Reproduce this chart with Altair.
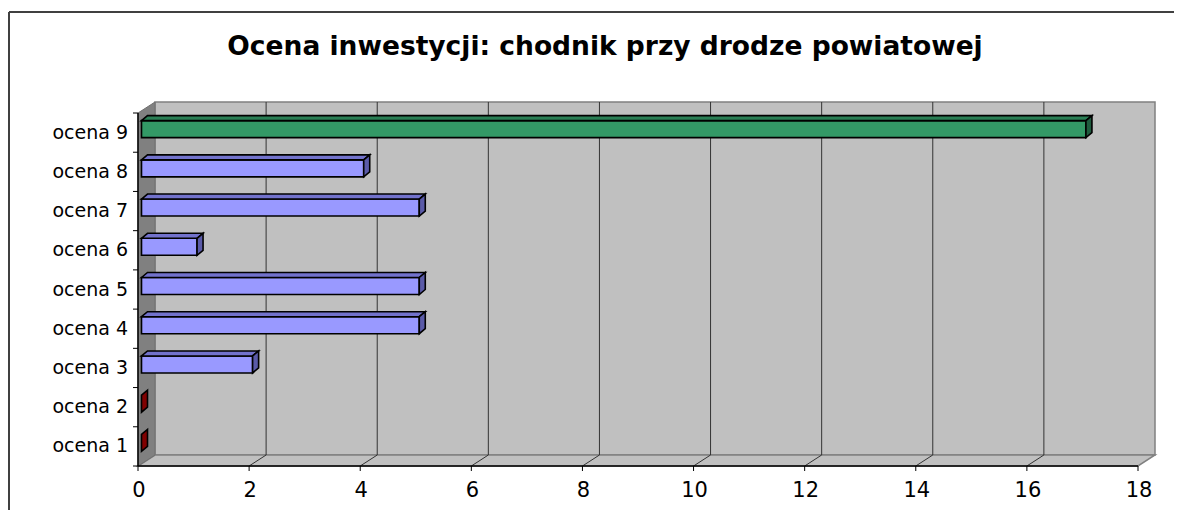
import altair as alt
import pandas as pd

# ---------------- data ----------------
categories = ["ocena 1", "ocena 2", "ocena 3", "ocena 4", "ocena 5",
              "ocena 6", "ocena 7", "ocena 8", "ocena 9"]
values = [0, 0, 2, 5, 5, 1, 5, 4, 17]
x_ticks = [0, 2, 4, 6, 8, 10, 12, 14, 16, 18]
title_text = ["Ocena inwestycji: chodnik przy drodze powiatowej"]

# ---------------- geometry / style constants ----------------
W, H = 1000, 353
XMAX = 18
N = len(categories)
SX = XMAX / W          # data units per px (x)
SY = N / H             # data units per px (y)
BACK_DX, BACK_DY = 17, 11      # 3-D depth of the walls, px
BAR_X0 = 3.5                   # bar start offset, px
BAR_TOP, BAR_BOT = 12, 5       # front face extent above/below category centre, px
DEP_X, DEP_Y = 6, 5            # bar depth, px
TICK = 5
FONT = "DejaVu Sans"

tones = ["zero", "mid", "max"]
front_cols = ["#993333", "#9999FF", "#339966"]
top_cols = ["#A03030", "#7272CC", "#2A7F55"]
side_cols = ["#800000", "#5A5AA8", "#1F5C3E"]

df = pd.DataFrame({"cat": categories, "value": values})
df["k"] = range(1, N + 1)
vmax = max(values)
df["tone"] = ["zero" if v == 0 else ("max" if v == vmax else "mid") for v in values]

top_rows, side_rows = [], []
for _, r in df.iterrows():
    x0 = BAR_X0 * SX
    x1 = r["value"] + BAR_X0 * SX
    dx = DEP_X * SX
    yb = r["k"] + BAR_TOP * SY
    yt = yb + DEP_Y * SY
    ybot = r["k"] - BAR_BOT * SY
    if r["value"] > 0:
        top_rows += [
            dict(cat=r["cat"], tone=r["tone"], x=x0, y=yb, y2=yb),
            dict(cat=r["cat"], tone=r["tone"], x=x0 + dx, y=yt, y2=yb),
            dict(cat=r["cat"], tone=r["tone"], x=x1, y=yt, y2=yb),
            dict(cat=r["cat"], tone=r["tone"], x=x1 + dx, y=yt, y2=yt),
        ]
    side_rows += [
        dict(cat=r["cat"], tone=r["tone"], x=x1, y=yb, y2=ybot),
        dict(cat=r["cat"], tone=r["tone"], x=x1 + dx, y=yt, y2=ybot + DEP_Y * SY),
    ]
top_df = pd.DataFrame(top_rows)
side_df = pd.DataFrame(side_rows)

ylo, yhi = 0.5, N + 0.5
bdx, bdy = BACK_DX * SX, BACK_DY * SY
left_wall = pd.DataFrame([
    dict(x=0, y=yhi, y2=ylo),
    dict(x=bdx, y=yhi + bdy, y2=ylo + bdy),
])
floor = pd.DataFrame([
    dict(x=0, y=ylo, y2=ylo),
    dict(x=bdx, y=ylo + bdy, y2=ylo),
    dict(x=XMAX, y=ylo + bdy, y2=ylo),
    dict(x=XMAX + bdx, y=ylo + bdy, y2=ylo + bdy),
])
grid_df = pd.DataFrame({"g": x_ticks[1:-1]})
xtick_df = pd.DataFrame({"t": x_ticks, "lab": [str(t) for t in x_ticks]})
ytick_df = pd.DataFrame({"b": [i + 0.5 for i in range(N + 1)]})

xs = alt.Scale(domain=[0, XMAX], nice=False, zero=False)
ys = alt.Scale(domain=[ylo, yhi], nice=False, zero=False)

def X(f, **kw):
    return alt.X(f, scale=xs, axis=None, **kw)

def Y(f, **kw):
    return alt.Y(f, scale=ys, axis=None, **kw)

def XD(v):
    return alt.X(datum=v, scale=xs, axis=None)

def YD(v):
    return alt.Y(datum=v, scale=ys, axis=None)

one = df.head(1)

back_wall = alt.Chart(one).mark_rect(
    fill="#C0C0C0", stroke="#808080", strokeWidth=1.5,
    xOffset=BACK_DX, x2Offset=BACK_DX, yOffset=-BACK_DY, y2Offset=-BACK_DY,
).encode(x=XD(0), x2=alt.X2(datum=XMAX), y=YD(ylo), y2=alt.Y2(datum=yhi))

floor_layer = alt.Chart(floor).mark_area(
    orient="vertical", fill="#C0C0C0", stroke="#808080", strokeWidth=1.5
).encode(x=X("x:Q"), y=Y("y:Q"), y2="y2:Q")

left_layer = alt.Chart(left_wall).mark_area(
    orient="vertical", fill="#808080", stroke="#707070", strokeWidth=1
).encode(x=X("x:Q"), y=Y("y:Q"), y2="y2:Q")

grid_back = alt.Chart(grid_df).mark_rule(
    color="#333333", strokeWidth=1,
    xOffset=BACK_DX, yOffset=-BACK_DY, y2Offset=-BACK_DY,
).encode(x=X("g:Q"), y=YD(ylo), y2=alt.Y2(datum=yhi))

grid_floor = alt.Chart(grid_df).mark_rule(
    color="#333333", strokeWidth=1, x2Offset=BACK_DX, y2Offset=-BACK_DY,
).encode(x=X("g:Q"), x2="g:Q", y=YD(ylo), y2=alt.Y2(datum=ylo))

front = alt.Chart(df[df["value"] > 0]).mark_rect(
    stroke="black", strokeWidth=1.6,
    xOffset=BAR_X0, x2Offset=BAR_X0, yOffset=-BAR_TOP, y2Offset=BAR_BOT,
).encode(
    x=X("zero:Q"), x2="value:Q", y=Y("k:Q"), y2="k:Q",
    fill=alt.Fill("tone:N", scale=alt.Scale(domain=tones, range=front_cols), legend=None),
).transform_calculate(zero="0")

top_layer = alt.Chart(top_df).mark_area(
    orient="vertical", stroke="black", strokeWidth=1.6, opacity=1
).encode(
    x=X("x:Q"), y=Y("y:Q"), y2="y2:Q", detail="cat:N",
    fill=alt.Fill("tone:N", scale=alt.Scale(domain=tones, range=top_cols), legend=None),
)

side_layer = alt.Chart(side_df).mark_area(
    orient="vertical", stroke="black", strokeWidth=1.6, opacity=1
).encode(
    x=X("x:Q"), y=Y("y:Q"), y2="y2:Q", detail="cat:N",
    fill=alt.Fill("tone:N", scale=alt.Scale(domain=tones, range=side_cols), legend=None),
)

# ---- hand-built axes (through the shared scales) ----
x_domain = alt.Chart(one).mark_rule(color="black", strokeWidth=1.5).encode(
    x=XD(0), x2=alt.X2(datum=XMAX), y=YD(ylo))
y_domain = alt.Chart(one).mark_rule(color="black", strokeWidth=1.5).encode(
    x=XD(0), y=YD(ylo), y2=alt.Y2(datum=yhi))
x_tick_marks = alt.Chart(xtick_df).mark_rule(
    color="black", strokeWidth=1, y2Offset=TICK).encode(
    x=X("t:Q"), y=YD(ylo), y2=alt.Y2(datum=ylo))
y_tick_marks = alt.Chart(ytick_df).mark_rule(
    color="black", strokeWidth=1, x2Offset=-TICK).encode(
    x=XD(0), x2=alt.X2(datum=0), y=Y("b:Q"))
x_labels = alt.Chart(xtick_df).mark_text(
    font=FONT, fontSize=21, align="center", baseline="middle", dy=25, dx=1,
    color="black"
).encode(x=X("t:Q"), y=YD(ylo), text="lab:N")

cat_labels = alt.Chart(df).mark_text(
    font=FONT, fontSize=19, align="right", baseline="middle", dx=-10, color="black"
).encode(x=XD(0), y=Y("k:Q"), text="cat:N")

title = alt.Chart(pd.DataFrame({"t": title_text})).mark_text(
    font=FONT, fontSize=26.5, fontWeight="bold", align="center", baseline="middle",
    color="black"
).encode(x=alt.value(467), y=alt.value(-66), text="t:N")

frame_left = alt.Chart(one).mark_rule(color="#404040", strokeWidth=2).encode(
    x=alt.value(-129), y=alt.value(-101), y2=alt.value(397))
frame_top = alt.Chart(one).mark_rule(color="#404040", strokeWidth=2).encode(
    x=alt.value(-129), x2=alt.value(1036), y=alt.value(-101))

chart = alt.layer(
    back_wall, floor_layer, left_layer, grid_back, grid_floor,
    front, top_layer, side_layer,
    x_domain, y_domain, x_tick_marks, y_tick_marks, x_labels,
    cat_labels, title, frame_left, frame_top,
).resolve_scale(fill="independent").properties(
    width=W, height=H,
    autosize=alt.AutoSizeParams(type="none"),
    padding={"left": 130, "top": 105, "right": 36, "bottom": 44},
    background="white",
).configure_view(stroke=None)

chart.save("out.html", embed_options={"renderer": "svg", "actions": False})
